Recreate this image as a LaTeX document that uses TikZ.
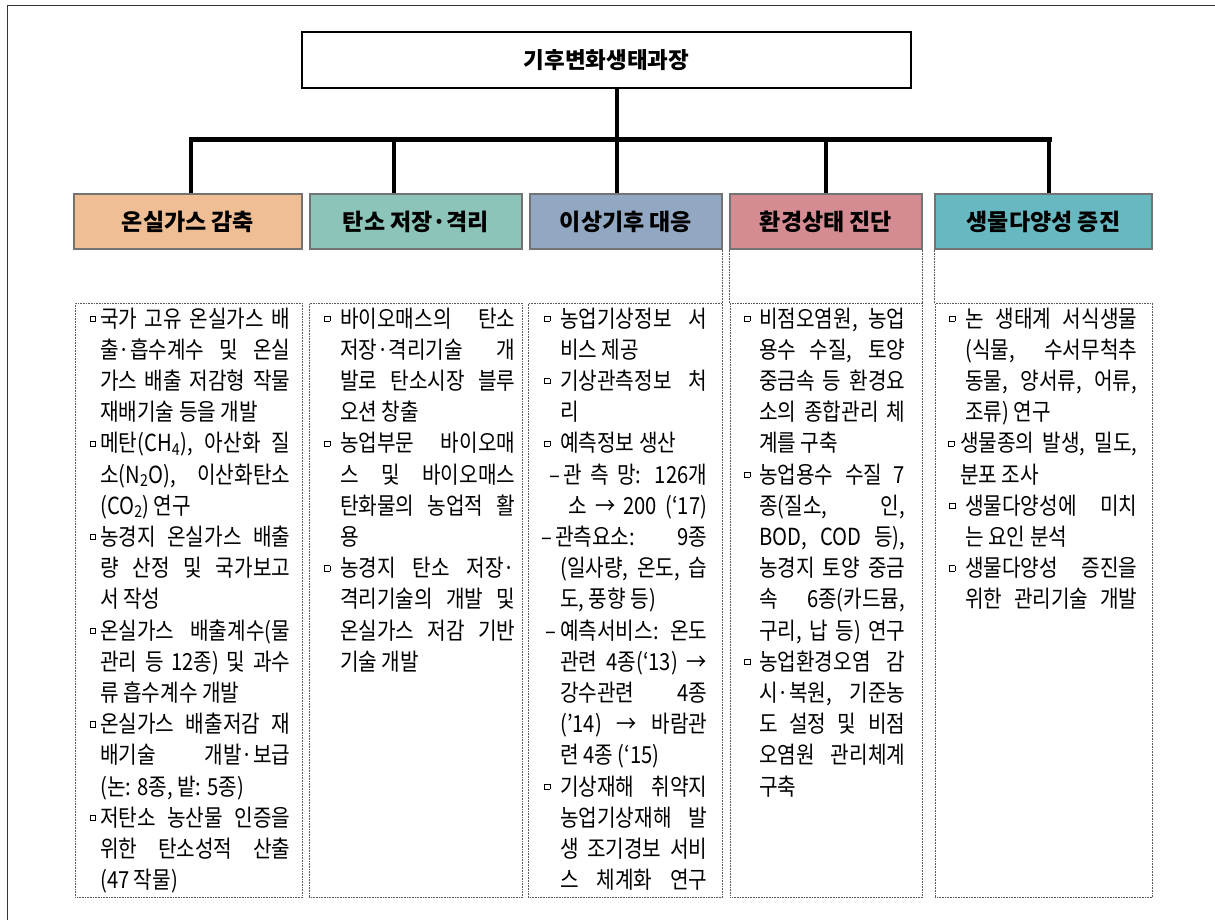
\documentclass[tikz,border=0pt]{standalone}
\usepackage{fontspec}
\setmainfont{Noto Sans CJK KR}[FakeStretch=0.86]
\newfontfamily\hdfont{Noto Sans CJK KR}
\usetikzlibrary{calc}

\definecolor{hcA}{RGB}{239,190,149}
\definecolor{hcB}{RGB}{141,196,186}
\definecolor{hcC}{RGB}{146,168,194}
\definecolor{hcD}{RGB}{212,139,145}
\definecolor{hcE}{RGB}{103,184,192}

\newcommand\JL[1]{\makebox[\linewidth][s]{#1}\par}
\newcommand\LL[1]{\makebox[\linewidth][l]{#1}\par}
\newcommand\sqb{\raisebox{6pt}{\setlength{\fboxsep}{0pt}\setlength{\fboxrule}{0.6pt}\fbox{\rule{0pt}{4.6pt}\rule{4.6pt}{0pt}}}}
\newcommand\bul[1]{\llap{\sqb\hspace{#1}}}
\newcommand\colfont{\fontsize{23.5}{31.2}\selectfont}

\tikzset{
  topbox/.style={draw=black, line width=2.8pt, minimum width=609pt, minimum height=56pt, inner sep=0pt,
    font=\hdfont\bfseries\fontsize{22.5}{22.5}\selectfont},
  hdr/.style={draw=black!55, line width=1.2pt, minimum height=55pt, inner sep=0pt,
    font=\hdfont\bfseries\fontsize{23}{23}\selectfont},
  conn/.style={line width=3.5pt, black},
  bus/.style={line width=5pt, black, line cap=rect},
  dotbox/.style={draw=black!65, densely dotted, line width=0.6pt, inner sep=0pt, anchor=north west, minimum height=594pt},
  dotline/.style={draw=black!65, densely dotted, line width=0.6pt},
  coltext/.style={anchor=base west, inner sep=0pt},
  outerframe/.style={line width=1.8pt, black!80},
}

\begin{document}
\begin{tikzpicture}[x=1pt,y=-1pt]
\useasboundingbox (0,0) rectangle (1215,920);
\draw[outerframe] (7.5,920) -- (7.5,5.5) -- (1215,5.5);

% top box
\node[topbox] (top) at (606.5,60) {기후변화생태과장};

% headers
\node[hdr, fill=hcA, minimum width=228pt] (h1) at (188,221.5) {온실가스 감축};
\node[hdr, fill=hcB, minimum width=212pt] (h2) at (416,221.5) {탄소 저장·격리};
\node[hdr, fill=hcC, minimum width=192pt] (h3) at (626,221.5) {이상기후 대응};
\node[hdr, fill=hcD, minimum width=192pt] (h4) at (826,221.5) {환경상태 진단};
\node[hdr, fill=hcE, minimum width=217pt] (h5) at (1043.5,221.5) {생물다양성 증진};

% connectors
\coordinate (d1) at (191,140);
\coordinate (d2) at (394,140);
\coordinate (d3) at (617,140);
\coordinate (d4) at (826,140);
\coordinate (d5) at (1049,140);
\draw[conn] (top.south -| d3) -- (d3);
\draw[bus] (d1) -- (d5);
\draw[conn] (d1) -- (d1 |- h1.north);
\draw[conn] (d2) -- (d2 |- h2.north);
\draw[conn] (d3) -- (d3 |- h3.north);
\draw[conn] (d4) -- (d4 |- h4.north);
\draw[conn] (d5) -- (d5 |- h5.north);

% dotted column frames
\node[dotbox, minimum width=227pt] (f1) at (75,303) {};
\node[dotbox, minimum width=213pt] (f2) at (309,303) {};
\node[dotbox, minimum width=194pt] (f3) at (528,303) {};
\node[dotbox, minimum width=192pt] (f4) at (730,303) {};
\node[dotbox, minimum width=217pt] (f5) at (935,303) {};
\draw[dotline] (h3.south east) -- (h3.south east |- f3.north);
\draw[dotline] (h4.south west) -- (h4.south west |- f4.north);
\draw[dotline] (h4.south east) -- (h4.south east |- f4.north);
\draw[dotline] (h5.south west) -- (h5.south west |- f5.north);

% column 1
\node[coltext] (t1) at (100,327) {\parbox[t]{190pt}{\colfont
\JL{\bul{4.5pt}국가 고유 온실가스 배}
\JL{출·흡수계수 및 온실}
\JL{가스 배출 저감형 작물}
\LL{재배기술 등을 개발}
\JL{\bul{4.5pt}메탄(CH\textsubscript{4}), 아산화 질}
\JL{소(N\textsubscript{2}O), 이산화탄소}
\LL{(CO\textsubscript{2}) 연구}
\JL{\bul{4.5pt}농경지 온실가스 배출}
\JL{량 산정 및 국가보고}
\LL{서 작성}
\JL{\bul{4.5pt}온실가스 배출계수(물}
\JL{관리 등 12종) 및 과수}
\LL{류 흡수계수 개발}
\JL{\bul{4.5pt}온실가스 배출저감 재}
\JL{배기술 개발·보급}
\LL{(논: 8종, 밭: 5종)}
\JL{\bul{4.5pt}저탄소 농산물 인증을}
\JL{위한 탄소성적 산출}
\LL{(47 작물)}
}};

% column 2
\node[coltext] (t2) at (340,327) {\parbox[t]{175pt}{\colfont
\JL{\bul{10pt}바이오매스의 탄소}
\JL{저장·격리기술 개}
\JL{발로 탄소시장 블루}
\LL{오션 창출}
\JL{\bul{10pt}농업부문 바이오매}
\JL{스 및 바이오매스}
\JL{탄화물의 농업적 활}
\LL{용}
\JL{\bul{10pt}농경지 탄소 저장·}
\JL{격리기술의 개발 및}
\JL{온실가스 저감 기반}
\LL{기술 개발}
}};

% column 3
\node[coltext] (t3) at (560,327) {\parbox[t]{147pt}{\colfont
\JL{\bul{10pt}농업기상정보 서}
\LL{비스 제공}
\JL{\bul{10pt}기상관측정보 처}
\LL{리}
\LL{\bul{10pt}예측정보 생산}
\JL{\hspace*{3pt}\llap{–\hspace{3pt}}관 측 망: 126개}
\JL{\hspace*{8pt}소 → 200 (‘17)}
\JL{\hspace*{-5pt}\llap{–\hspace{3pt}}관측요소: 9종}
\JL{(일사량, 온도, 습}
\LL{도, 풍향 등)}
\JL{\llap{–\hspace{4pt}}예측서비스: 온도}
\JL{관련 4종(‘13) →}
\JL{강수관련 4종}
\JL{(’14) → 바람관}
\LL{련 4종 (‘15)}
\JL{\bul{10pt}기상재해 취약지}
\JL{농업기상재해 발}
\JL{생 조기경보 서비}
\JL{스 체계화 연구}
}};

% column 4
\node[coltext] (t4) at (759,327) {\parbox[t]{146pt}{\colfont
\JL{\bul{9pt}비점오염원, 농업}
\JL{용수 수질, 토양}
\JL{중금속 등 환경요}
\JL{소의 종합관리 체}
\LL{계를 구축}
\JL{\bul{9pt}농업용수 수질 7}
\JL{종(질소, 인,}
\JL{BOD, COD 등),}
\JL{농경지 토양 중금}
\JL{속 6종(카드뮴,}
\JL{구리, 납 등) 연구}
\JL{\bul{9pt}농업환경오염 감}
\JL{시·복원, 기준농}
\JL{도 설정 및 비점}
\JL{오염원 관리체계}
\LL{구축}
}};

% column 5
\node[coltext] (t5) at (965,327) {\parbox[t]{172pt}{\colfont
\JL{\bul{10pt}논 생태계 서식생물}
\JL{(식물, 수서무척추}
\JL{동물, 양서류, 어류,}
\LL{조류) 연구}
\JL{\hspace*{-5pt}\bul{6pt}생물종의 발생, 밀도,}
\LL{\hspace*{-5pt}분포 조사}
\JL{\bul{10pt}생물다양성에 미치}
\LL{는 요인 분석}
\JL{\bul{10pt}생물다양성 증진을}
\JL{위한 관리기술 개발}
}};
\end{tikzpicture}
\end{document}
